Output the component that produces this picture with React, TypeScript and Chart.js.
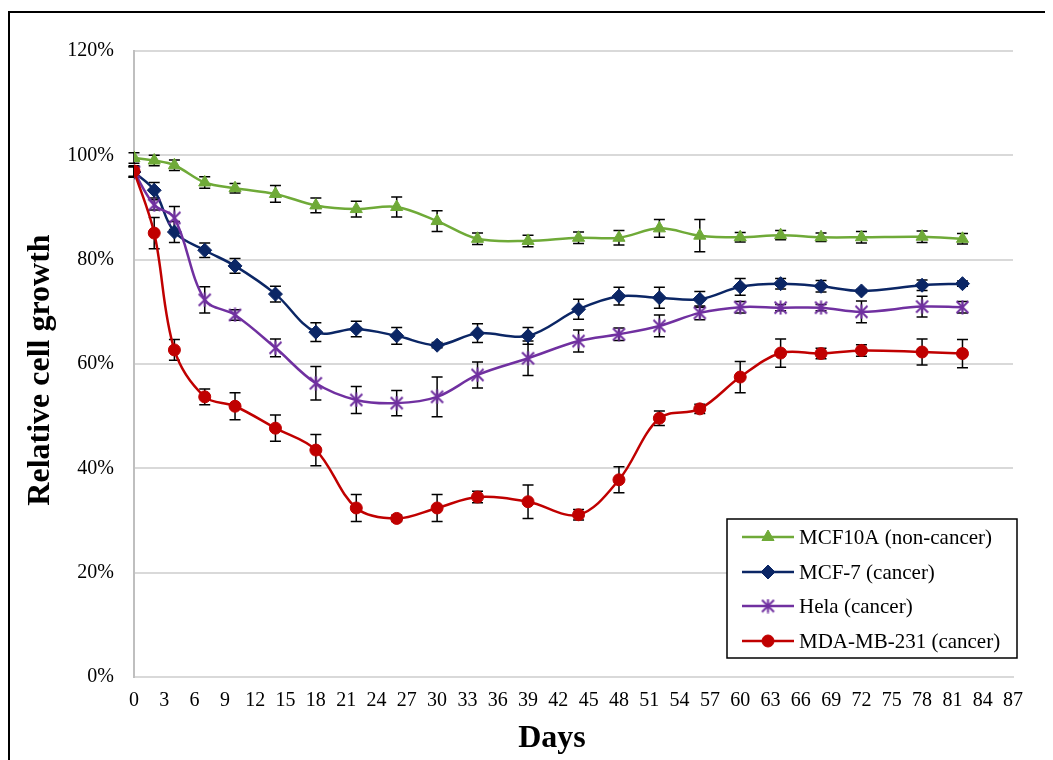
import React, { useEffect, useRef } from 'react';
import { Chart, registerables } from 'chart.js';
import { drawPoint } from 'chart.js/helpers';

Chart.register(...registerables);

const days = [0, 2, 4, 7, 10, 14, 18, 22, 26, 30, 34, 39, 44, 48, 52, 56, 60, 64, 68, 72, 78, 82];

const mcf10a = [99.5, 99.0, 98.1, 94.8, 93.7, 92.6, 90.4, 89.7, 90.1, 87.4, 84.0, 83.6, 84.2, 84.2, 86.0, 84.6, 84.3, 84.7, 84.3, 84.3, 84.4, 84.0];
const mcf10aErr = [1.0, 1.0, 1.0, 1.1, 0.9, 1.6, 1.4, 1.5, 1.9, 2.0, 1.1, 1.1, 1.1, 1.4, 1.7, 3.1, 0.9, 0.9, 0.8, 1.1, 1.1, 1.0];

const mcf7 = [96.8, 93.3, 85.3, 81.8, 78.8, 73.4, 66.1, 66.7, 65.4, 63.6, 65.9, 65.4, 70.5, 73.0, 72.7, 72.4, 74.8, 75.4, 74.9, 74.0, 75.1, 75.4];
const mcf7Err = [1.0, 1.5, 2.0, 1.4, 1.4, 1.5, 1.8, 1.5, 1.6, 0.5, 1.8, 1.6, 1.9, 1.7, 2.0, 1.5, 1.6, 1.0, 1.1, 0.3, 1.0, 0.5];

const hela = [96.8, 90.5, 88.0, 72.3, 69.4, 63.1, 56.3, 53.1, 52.5, 53.7, 57.9, 61.1, 64.4, 65.7, 67.3, 69.8, 70.9, 70.8, 70.8, 70.0, 71.0, 70.9];
const helaErr = [1.0, 1.0, 2.2, 2.5, 1.0, 1.7, 3.2, 2.6, 2.4, 3.8, 2.5, 3.3, 2.1, 1.2, 2.1, 1.3, 1.1, 0.6, 0.6, 2.1, 2.0, 1.1];

const mda = [97.0, 85.1, 62.7, 53.7, 51.9, 47.7, 43.5, 32.4, 30.4, 32.4, 34.5, 33.6, 31.1, 37.8, 49.6, 51.4, 57.5, 62.1, 62.0, 62.6, 62.3, 62.0];
const mdaErr = [1.0, 3.0, 2.0, 1.5, 2.6, 2.5, 3.0, 2.6, 0.6, 2.6, 1.1, 3.2, 1.0, 2.5, 1.4, 0.9, 3.0, 2.7, 1.0, 1.1, 2.5, 2.7];

const seriesNames = ['MCF10A (non-cancer)', 'MCF-7 (cancer)', 'Hela (cancer)', 'MDA-MB-231 (cancer)'];
const seriesColors = ['#6FAA38', '#0B2665', '#7030A0', '#C00000'];

const xTickValues = [0, 3, 6, 9, 12, 15, 18, 21, 24, 27, 30, 33, 36, 39, 42, 45, 48, 51, 54, 57, 60, 63, 66, 69, 72, 75, 78, 81, 84, 87];
const yTickValues = [0, 20, 40, 60, 80, 100, 120];

const xTitle = 'Days';
const yTitle = 'Relative cell growth';
const FONT = '"Liberation Serif", "Times New Roman", serif';

function makeStar(color: string, size: number): HTMLCanvasElement {
  const c = document.createElement('canvas');
  c.width = size;
  c.height = size;
  const g = c.getContext('2d')!;
  g.strokeStyle = color;
  g.lineWidth = 2;
  const m = 1.5;
  g.beginPath();
  g.moveTo(m, m);
  g.lineTo(size - m, size - m);
  g.moveTo(size - m, m);
  g.lineTo(m, size - m);
  g.moveTo(size / 2, 0.5);
  g.lineTo(size / 2, size - 0.5);
  g.stroke();
  return c;
}

export default function App() {
  const ref = useRef<HTMLCanvasElement | null>(null);

  useEffect(() => {
    document.documentElement.style.overflow = 'hidden';
    document.body.style.overflow = 'hidden';
    const canvas = ref.current!;
    const star = makeStar(seriesColors[2], 15);
    const values = [mcf10a, mcf7, hela, mda];
    const errors = [mcf10aErr, mcf7Err, helaErr, mdaErr];
    const styles: any[] = ['triangle', 'rectRot', star, 'circle'];
    const radii = [7, 7, 7.5, 6];

    const datasets = values.map((vals, i) => ({
      label: seriesNames[i],
      data: days.map((d, j) => ({ x: d, y: vals[j] })),
      borderColor: seriesColors[i],
      backgroundColor: seriesColors[i],
      pointBackgroundColor: seriesColors[i],
      pointBorderColor: seriesColors[i],
      pointBorderWidth: 1,
      pointStyle: styles[i],
      pointRadius: radii[i],
      borderWidth: 2.5,
      tension: 0.35,
      fill: false,
      order: 4 - i,
    }));

    const overlay = {
      id: 'overlay',
      beforeDatasetsDraw(chart: any) {
        const ctx = chart.ctx;
        const xs = chart.scales.x;
        const ys = chart.scales.y;
        ctx.save();
        ctx.strokeStyle = '#000';
        ctx.lineWidth = 1.5;
        for (let i = values.length - 1; i >= 0; i--) {
          for (let j = 0; j < days.length; j++) {
            const px = xs.getPixelForValue(days[j]);
            const top = ys.getPixelForValue(values[i][j] + errors[i][j]);
            const bot = ys.getPixelForValue(values[i][j] - errors[i][j]);
            ctx.beginPath();
            ctx.moveTo(px, top);
            ctx.lineTo(px, bot);
            ctx.moveTo(px - 5.5, top);
            ctx.lineTo(px + 5.5, top);
            ctx.moveTo(px - 5.5, bot);
            ctx.lineTo(px + 5.5, bot);
            ctx.stroke();
          }
        }
        ctx.restore();
      },
      afterDraw(chart: any) {
        const ctx = chart.ctx;
        ctx.save();
        // axis titles
        ctx.fillStyle = '#000';
        ctx.font = 'bold 32px ' + FONT;
        ctx.textAlign = 'center';
        ctx.textBaseline = 'alphabetic';
        ctx.fillText(xTitle, 542, 734);
        ctx.save();
        ctx.translate(39, 357);
        ctx.rotate(-Math.PI / 2);
        ctx.fillText(yTitle, 0, 0);
        ctx.restore();

        // legend
        const bx = 717, by = 506, bw = 290, bh = 139;
        ctx.fillStyle = '#fff';
        ctx.fillRect(bx, by, bw, bh);
        ctx.strokeStyle = '#000';
        ctx.lineWidth = 1.5;
        ctx.strokeRect(bx, by, bw, bh);
        const rows = [524, 559, 593, 628];
        for (let i = 0; i < seriesNames.length; i++) {
          const y = rows[i];
          ctx.strokeStyle = seriesColors[i];
          ctx.lineWidth = 2.5;
          ctx.beginPath();
          ctx.moveTo(732, y);
          ctx.lineTo(784, y);
          ctx.stroke();
          ctx.fillStyle = seriesColors[i];
          ctx.strokeStyle = seriesColors[i];
          ctx.lineWidth = 1;
          drawPoint(ctx, { pointStyle: styles[i], radius: radii[i], rotation: 0, borderWidth: 1 } as any, 758, y);
          ctx.fillStyle = '#000';
          ctx.font = '21px ' + FONT;
          ctx.textAlign = 'left';
          ctx.textBaseline = 'middle';
          ctx.fillText(seriesNames[i], 789, y + 1);
        }
        ctx.restore();
      },
    };

    const chart = new Chart(canvas, {
      type: 'line',
      data: { datasets: datasets as any },
      options: {
        animation: false,
        responsive: false,
        maintainAspectRatio: false,
        layout: { padding: { left: 0, top: 38, right: 37, bottom: 0 } },
        plugins: {
          legend: { display: false },
          tooltip: { enabled: false },
          title: { display: false },
        },
        scales: {
          x: {
            type: 'linear',
            min: 0,
            max: 87,
            afterBuildTicks: (scale: any) => {
              scale.ticks = xTickValues.map((v) => ({ value: v }));
            },
            afterFit: (scale: any) => {
              scale.height = 86;
            },
            ticks: {
              autoSkip: false,
              maxRotation: 0,
              minRotation: 0,
              padding: 12,
              color: '#000',
              font: { family: FONT, size: 20 },
            },
            grid: { display: false, drawTicks: false },
            border: { display: true, color: '#D9D9D9', width: 2 },
          },
          y: {
            type: 'linear',
            min: 0,
            max: 120,
            afterBuildTicks: (scale: any) => {
              scale.ticks = yTickValues.map((v) => ({ value: v }));
            },
            afterFit: (scale: any) => {
              scale.width = 124;
            },
            ticks: {
              padding: 20,
              color: '#000',
              font: { family: FONT, size: 20 },
              callback: (v: any) => v + '%',
            },
            grid: { color: '#D9D9D9', lineWidth: 2, drawTicks: false },
            border: { display: true, color: '#BFBFBF', width: 2 },
          },
        },
      },
      plugins: [overlay],
    });

    return () => {
      chart.destroy();
    };
  }, []);

  return (
    <div style={{ paddingTop: 3 }}>
      <div
        style={{
          position: 'relative',
          width: 1060,
          height: 752,
          borderTop: '2px solid #000',
          borderLeft: '2px solid #000',
          background: '#fff',
        }}
      >
        <canvas
          ref={ref}
          width={1040}
          height={750}
          style={{ position: 'absolute', left: 0, top: 0, width: 1040, height: 750 }}
        />
      </div>
    </div>
  );
}
